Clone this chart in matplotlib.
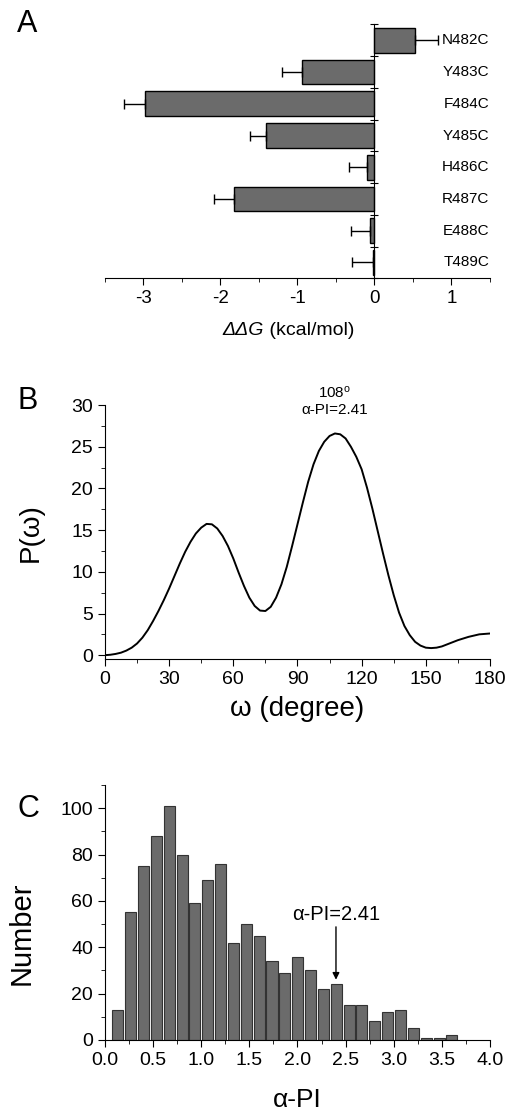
import numpy as np
import matplotlib.pyplot as plt
from matplotlib.ticker import MultipleLocator

plt.rcParams['font.family'] = ['Liberation Sans', 'DejaVu Sans']
plt.rcParams['mathtext.fontset'] = 'custom'
plt.rcParams['mathtext.it'] = 'Liberation Sans:italic'
plt.rcParams['mathtext.rm'] = 'Liberation Sans'

# panel A data
mutants = ['N482C', 'Y483C', 'F484C', 'Y485C', 'H486C', 'R487C', 'E488C', 'T489C']
ddg = [0.52, -0.94, -2.98, -1.41, -0.10, -1.83, -0.06, -0.02]
ddg_err = [0.30, 0.26, 0.27, 0.21, 0.23, 0.26, 0.24, 0.27]

# panel B data (read every 2.5 degrees)
omega = np.arange(0, 180.1, 2.5)
p_omega = [0.0, 0.05, 0.15, 0.3, 0.55, 0.9, 1.4, 2.1, 3.0, 4.1, 5.3, 6.6, 8.0, 9.5,
           11.0, 12.4, 13.6, 14.6, 15.3, 15.75, 15.7, 15.2, 14.3, 13.1, 11.6, 9.9, 8.3,
           6.9, 5.9, 5.35, 5.3, 5.8, 6.9, 8.5, 10.6, 13.1, 15.7, 18.3, 20.8, 22.9, 24.5,
           25.6, 26.3, 26.6, 26.5, 26.0, 25.0, 23.8, 22.3, 20.1, 17.6, 14.9, 12.2, 9.6,
           7.2, 5.1, 3.5, 2.4, 1.6, 1.15, 0.9, 0.85, 0.9, 1.05, 1.3, 1.55, 1.8, 2.0, 2.2,
           2.35, 2.5, 2.55, 2.6]

# panel C data
bin_w = 0.1335
counts = [13, 55, 75, 88, 101, 80, 59, 69, 76, 42, 50, 45, 34, 29, 36, 30, 22, 24,
          15, 15, 8, 12, 13, 5, 1, 1, 2]
centers = bin_w * np.arange(1, len(counts) + 1)

bar_color = '#6b6b6b'

fig = plt.figure(figsize=(5.12, 11.13), dpi=100)

# ---------- A ----------
axA = fig.add_axes([0.205, 0.750, 0.752, 0.228])
ypos = np.arange(len(mutants))
lo = [e if v < 0 else 0 for v, e in zip(ddg, ddg_err)]
hi = [e if v >= 0 else 0 for v, e in zip(ddg, ddg_err)]
axA.barh(ypos, ddg, height=0.78, color=bar_color, edgecolor='black', linewidth=1,
         xerr=[lo, hi], error_kw=dict(ecolor='black', elinewidth=1, capsize=3.5, capthick=1))
axA.set_ylim(7.5, -0.5)
axA.set_xlim(-3.5, 1.5)
axA.spines['top'].set_visible(False)
axA.spines['right'].set_visible(False)
axA.spines['left'].set_position(('data', 0))
axA.set_yticks(np.arange(-0.5, 8, 1))
axA.tick_params(axis='y', direction='inout', length=6, labelleft=False)
axA.set_xticks([-3, -2, -1, 0, 1])
axA.set_xticklabels(['-3', '-2', '-1', '0', '1'])
axA.xaxis.set_minor_locator(MultipleLocator(0.5))
axA.tick_params(axis='x', which='major', length=5, labelsize=13.5)
axA.tick_params(axis='x', which='minor', length=3)
for i, m in enumerate(mutants):
    axA.text(1.49, i, m, ha='right', va='center', fontsize=11)
# x label: italic ΔΔG followed by upright unit
t1 = fig.text(0.515, 0.7035, '\u0394\u0394G', style='italic', fontsize=14,
              ha='right', va='center')
axA.annotate(' (kcal/mol)', xy=(1, 0.5), xycoords=t1, ha='left', va='center',
             fontsize=14, annotation_clip=False)
fig.text(0.053, 0.978, 'A', fontsize=22, ha='center', va='center')

# ---------- B ----------
axB = fig.add_axes([0.205, 0.4076, 0.752, 0.2284])
axB.plot(omega, p_omega, color='black', linewidth=1.4)
axB.set_xlim(0, 180)
axB.set_ylim(-0.5, 30)
axB.spines['top'].set_visible(False)
axB.spines['right'].set_visible(False)
axB.set_xticks(range(0, 181, 30))
axB.set_yticks(range(0, 31, 5))
axB.xaxis.set_minor_locator(MultipleLocator(15))
axB.yaxis.set_minor_locator(MultipleLocator(2.5))
axB.tick_params(which='major', length=5, labelsize=14)
axB.tick_params(which='minor', length=3)
axB.text(107.5, 28.6, '108$^\\mathrm{o}$\n\u03b1-PI=2.41', ha='center', va='bottom',
         fontsize=11, linespacing=1.2)
axB.set_xlabel('\u03c9 (degree)', fontsize=20, labelpad=6)
axB.set_ylabel('P(\u03c9)', fontsize=20)
axB.yaxis.set_label_coords(-0.16, 0.5)
fig.text(0.053, 0.640, 'B', fontsize=22, ha='center', va='center')

# ---------- C ----------
axC = fig.add_axes([0.205, 0.0656, 0.752, 0.2291])
axC.bar(centers, counts, width=0.115, color=bar_color, edgecolor='#333333', linewidth=0.8)
axC.set_xlim(0, 4)
axC.set_ylim(0, 110)
axC.spines['top'].set_visible(False)
axC.spines['right'].set_visible(False)
axC.set_xticks(np.arange(0, 4.01, 0.5))
axC.set_xticklabels(['%.1f' % t for t in np.arange(0, 4.01, 0.5)])
axC.set_yticks(range(0, 101, 20))
axC.xaxis.set_minor_locator(MultipleLocator(0.25))
axC.yaxis.set_minor_locator(MultipleLocator(10))
axC.tick_params(which='major', length=5, labelsize=14)
axC.tick_params(which='minor', length=3)
axC.annotate('\u03b1-PI=2.41', xy=(2.4, 26), xytext=(2.4, 50), ha='center', va='bottom',
             fontsize=14.5,
             arrowprops=dict(arrowstyle='-|>', color='black', lw=1, mutation_scale=10,
                             shrinkA=0, shrinkB=0))
axC.set_xlabel('\u03b1-PI', fontsize=19, labelpad=14)
axC.set_ylabel('Number', fontsize=21)
axC.yaxis.set_label_coords(-0.18, 0.42)
fig.text(0.055, 0.273, 'C', fontsize=22, ha='center', va='center')

fig.savefig('out.png', dpi=100)
